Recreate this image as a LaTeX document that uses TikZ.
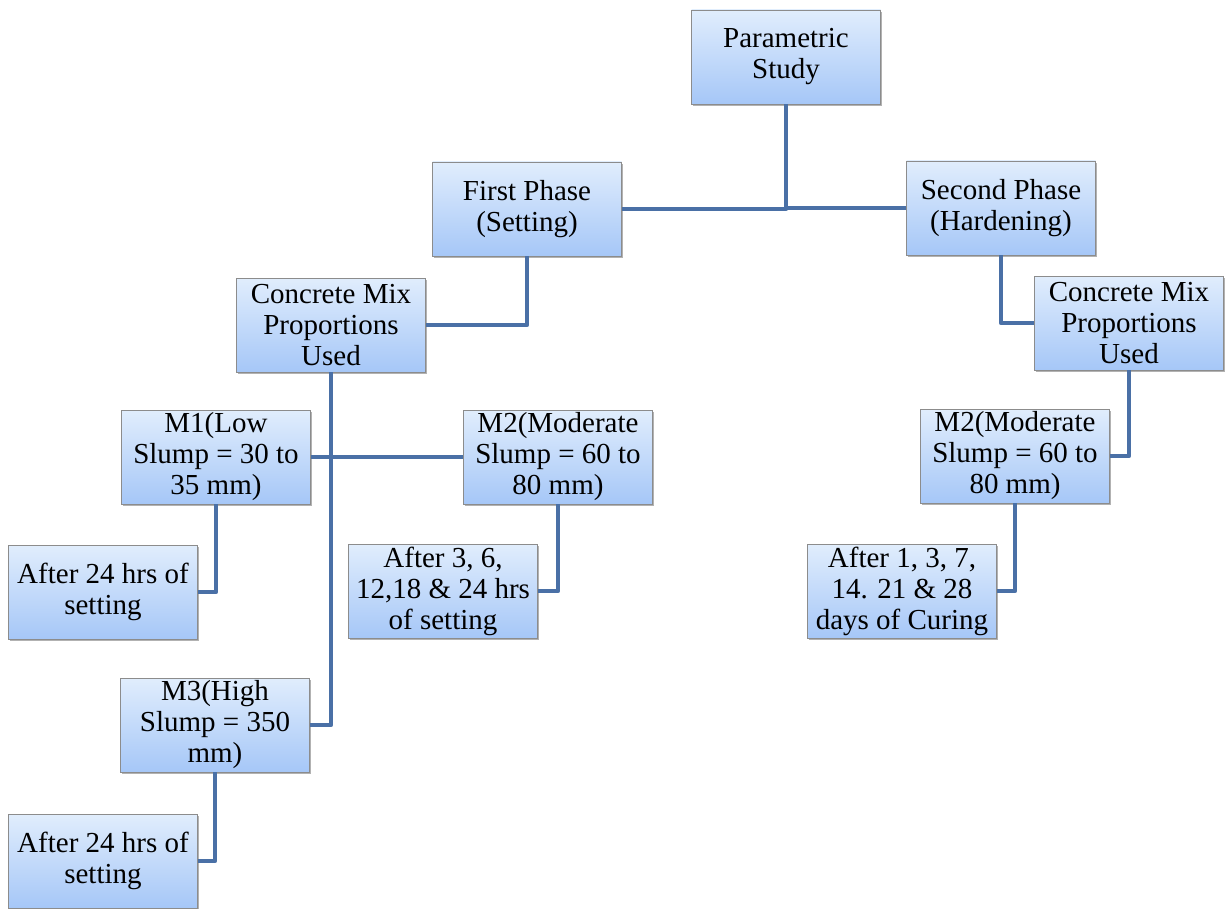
\documentclass[tikz,border=0pt]{standalone}
\usepackage{fontspec}
\setmainfont{Liberation Serif}
\usepackage{tikz}
\usetikzlibrary{shadows}
\usepackage{xcolor}
\definecolor{boxtop}{rgb}{0.88,0.93,0.99}
\definecolor{boxbottom}{rgb}{0.65,0.78,0.97}
\definecolor{boxline}{rgb}{0.55,0.55,0.55}
\definecolor{linkblue}{rgb}{0.29,0.44,0.65}

\begin{document}
\begin{tikzpicture}[
x = 1pt, y = -1pt,
every node/.style = {draw=boxline, line width=0.8pt, minimum width=189pt, minimum height=94pt,
  top color=boxtop, bottom color=boxbottom, align=center, inner sep=1pt,
  font=\fontsize{29}{31}\selectfont,
  drop shadow={shadow xshift=1.5pt, shadow yshift=-2pt, opacity=0.3, fill=black}},
link/.style = {draw=linkblue, line width=4.5pt, line join=round}
]
\useasboundingbox (0,0) rectangle (1225,909);
\node (param)  at (786,57)   {Parametric\\Study};
\node (first)  at (527,209)  {First Phase\\(Setting)};
\node (second) at (1001,208) {Second Phase\\(Hardening)};
\node (mixL)   at (331,325)  {Concrete Mix\\Proportions\\Used};
\node (mixR)   at (1129,323) {Concrete Mix\\Proportions\\Used};
\node (mone)   at (216,457)  {M1(Low\\Slump = 30 to\\35 mm)};
\node (mtwo)   at (558,457)  {M2(Moderate\\Slump = 60 to\\80 mm)};
\node (mtwoR)  at (1015,456) {M2(Moderate\\Slump = 60 to\\80 mm)};
\node (setA)   at (103,592)  {After 24 hrs of\\setting};
\node (setB)   at (443,591)  {After 3, 6,\\12,18 \& 24 hrs\\of setting};
\node (cure)   at (902,591)  {After 1, 3, 7,\\14. 21 \& 28\\days of Curing};
\node (mthree) at (215,725)  {M3(High\\Slump = 350\\mm)};
\node (setC)   at (103,861)  {After 24 hrs of\\setting};

\draw[link] (param.south) |- (first.east);
\draw[link] (param.south) |- (second.west);
\draw[link] (first.south) |- (mixL.east);
\draw[link] (second.south) |- (mixR.west);
\draw[link] (mixL.south) |- (mthree.east);
\draw[link] (mone.east) -- (mtwo.west);
\draw[link] (mone.south) |- (setA.east);
\draw[link] (mtwo.south) |- (setB.east);
\draw[link] (mixR.south) |- (mtwoR.east);
\draw[link] (mtwoR.south) |- (cure.east);
\draw[link] (mthree.south) |- (setC.east);
\end{tikzpicture}
\end{document}
